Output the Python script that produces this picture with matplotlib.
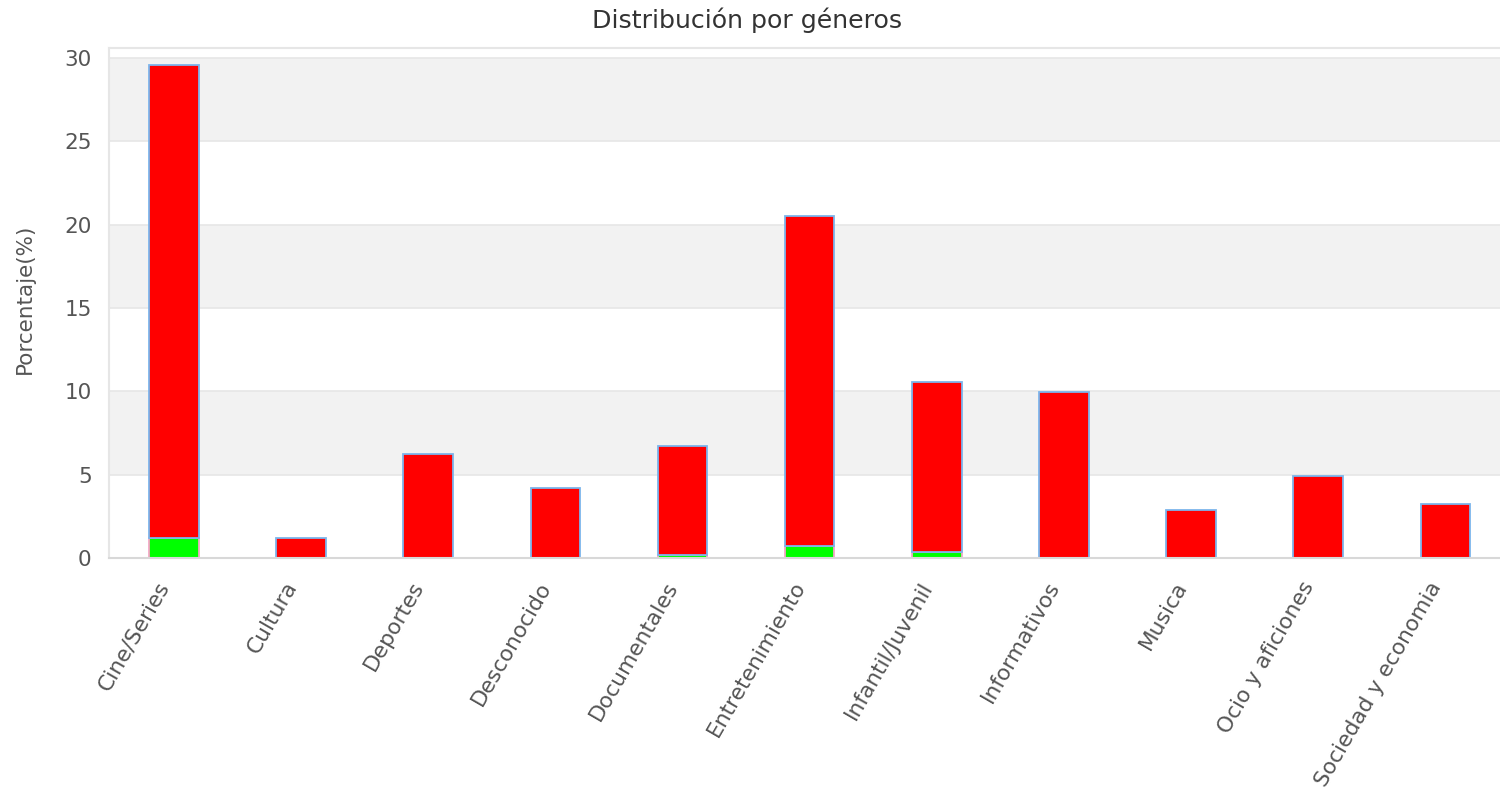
import matplotlib
matplotlib.use("Agg")
import matplotlib.pyplot as plt
import matplotlib.transforms as mtransforms
import numpy as np

categories = ["Cine/Series", "Cultura", "Deportes", "Desconocido", "Documentales",
              "Entretenimiento", "Infantil/Juvenil", "Informativos", "Musica",
              "Ocio y aficiones", "Sociedad y economia"]
green_values = [1.2, 0, 0, 0, 0.2, 0.7, 0.35, 0, 0, 0, 0]
red_values = [28.4, 1.2, 6.24, 4.2, 6.5, 19.8, 10.2, 9.96, 2.88, 4.92, 3.24]
y_ticks = [0, 5, 10, 15, 20, 25, 30]

plt.rcParams['font.family'] = ['DejaVu Sans']
fig = plt.figure(figsize=(15, 7.94), dpi=100)
ax = fig.add_axes([0.0727, 0.2972, 0.9273, 0.6423])

x = np.arange(len(categories))
ax.set_xlim(-0.51, len(categories) - 0.57)
ax.set_ylim(0, 30.6)

# alternating bands
for i in range(len(y_ticks) - 1):
    if i % 2 == 1:
        ax.axhspan(y_ticks[i], y_ticks[i + 1], color='#f2f2f2', zorder=0, lw=0)
for t in y_ticks:
    ax.axhline(t, color='#e6e6e6', lw=1.2, zorder=0.5)

w = 0.39
gv = np.array(green_values)
ax.bar(x, gv, width=w, color='#00ff00', edgecolor='#f4a6c6', linewidth=1.3, zorder=2)
ax.bar(x, red_values, width=w, bottom=gv, color='#ff0000', edgecolor='#7cb5ec', linewidth=1.3, zorder=2)

ax.set_yticks(y_ticks)
ax.set_xticks(x)
ax.set_xticklabels(categories, rotation=60, ha='right', va='center', rotation_mode='anchor',
                   fontsize=15.7, color='#555555')
ax.tick_params(axis='y', labelsize=15.5, labelcolor='#555555', length=0, pad=12.5)
ax.tick_params(axis='x', length=0, pad=13)
offset = mtransforms.ScaledTranslation(-0.09, -0.07, fig.dpi_scale_trans)
for lab in ax.get_xticklabels():
    lab.set_transform(lab.get_transform() + offset)

for s in ['left', 'top', 'right']:
    ax.spines[s].set_color('#e6e6e6')
    ax.spines[s].set_linewidth(1.5)
ax.spines['right'].set_visible(False)
ax.spines['bottom'].set_color('#d8d8d8')
ax.spines['bottom'].set_linewidth(1.5)

ax.set_ylabel('Porcentaje(%)', fontsize=15.5, color='#555555')
ax.yaxis.set_label_coords(-0.0535, 0.508)
fig.text(0.4983, 0.974, 'Distribución por géneros', ha='center', va='center', fontsize=18.2, color='#333333')

fig.savefig('out.png', dpi=100)
